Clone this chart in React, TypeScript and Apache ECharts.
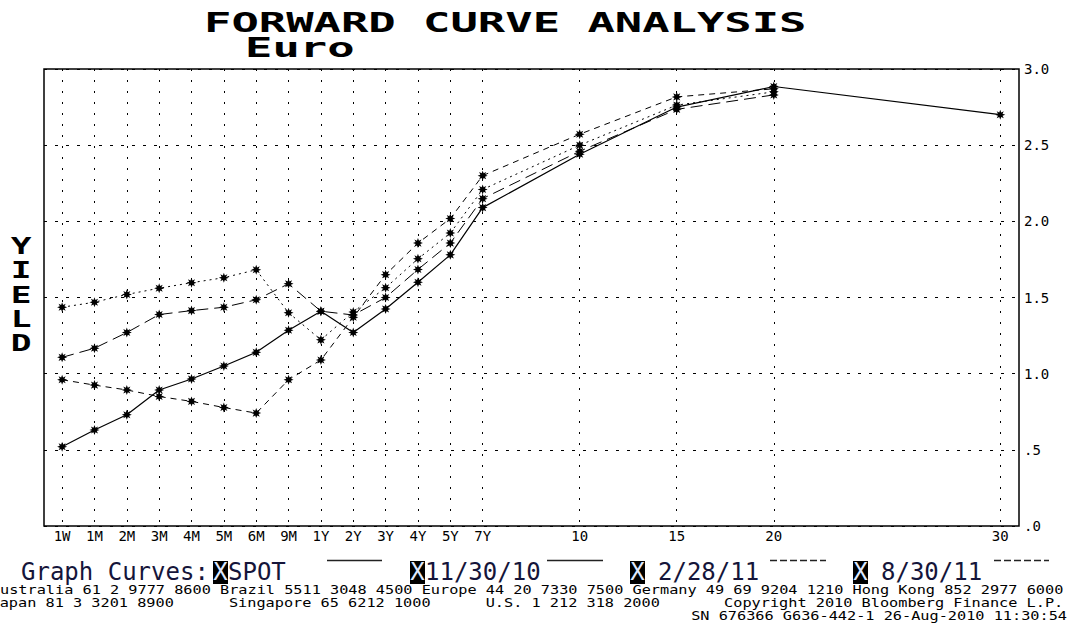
import React, { useEffect, useRef } from 'react';
import * as echarts from 'echarts';

// Tenors and their slot positions on the (non-linear) Bloomberg tenor axis
const TENORS = ['1W', '1M', '2M', '3M', '4M', '5M', '6M', '9M', '1Y', '2Y', '3Y', '4Y', '5Y', '7Y', '10', '15', '20', '30'];
const TENOR_POS = [0, 1, 2, 3, 4, 5, 6, 7, 8, 9, 10, 11, 12, 13, 16, 19, 22, 29];

const SPOT = [0.52, 0.63, 0.73, 0.893, 0.965, 1.05, 1.14, 1.285, 1.41, 1.27, 1.425, 1.6, 1.78, 2.09, 2.44, 2.75, 2.885, 2.7];
const FWD_11_30_10 = [0.96, 0.925, 0.893, 0.85, 0.818, 0.778, 0.741, 0.96, 1.09, 1.37, 1.65, 1.857, 2.018, 2.3, 2.572, 2.817, 2.87, null];
const FWD_2_28_11 = [1.107, 1.167, 1.27, 1.388, 1.414, 1.436, 1.485, 1.59, 1.41, 1.385, 1.5, 1.684, 1.857, 2.149, 2.46, 2.735, 2.83, null];
const FWD_8_30_11 = [1.436, 1.469, 1.52, 1.561, 1.597, 1.63, 1.682, 1.4, 1.222, 1.405, 1.564, 1.754, 1.923, 2.209, 2.5, 2.763, 2.85, null];

const Y_MIN = 0;
const Y_MAX = 3;
const Y_STEP = 0.5;

const LEGEND_ITEMS = ['SPOT', '11/30/10', '2/28/11', '8/30/11'];

// Footer as visible in the reference (left edge clipped by the screen)
const FOOTER_1 = 'ustralia 61 2 9777 8600 Brazil 5511 3048 4500 Europe 44 20 7330 7500 Germany 49 69 9204 1210 Hong Kong 852 2977 6000';
const FOOTER_2 = ['apan 81 3 3201 8900', 'Singapore 65 6212 1000', 'U.S. 1 212 318 2000', 'Copyright 2010 Bloomberg Finance L.P.'];
const FOOTER_3 = 'SN 676366 G636-442-1 26-Aug-2010 11:30:54';

const STAR =
  'path://M10,5 L7.3,6 L8.54,8.54 L6,7.3 L5,10 L4,7.3 L1.46,8.54 L2.7,6 L0,5 L2.7,4 L1.46,1.46 L4,2.7 L5,0 L6,2.7 L8.54,1.46 L7.3,4 Z';

const MONO = '"DejaVu Sans Mono", "Liberation Mono", monospace';

function pairs(vals: (number | null)[]) {
  return TENOR_POS.map((p, i) => [p, vals[i]]).filter((d) => d[1] !== null);
}

function lineSeries(name: string, vals: (number | null)[], dash: any, width: number) {
  return {
    type: 'line',
    name,
    data: pairs(vals),
    symbol: STAR,
    symbolSize: 10,
    itemStyle: { color: '#000' },
    lineStyle: { color: '#000', width, type: dash },
    emphasis: { disabled: true },
    silent: true,
  };
}

function txt(text: string, x: number, y: number, opts: any = {}) {
  const { scaleX = 1, size = 12, weight = 'normal', family = MONO, color = '#000', align = 'left', valign = 'middle', lineHeight } = opts;
  return {
    type: 'text',
    x,
    y,
    scaleX,
    silent: true,
    style: {
      text,
      fontSize: size,
      fontWeight: weight,
      fontFamily: family,
      fill: color,
      textAlign: align,
      align,
      textVerticalAlign: valign,
      verticalAlign: valign,
      lineHeight,
    },
  };
}

export default function App() {
  const ref = useRef<HTMLDivElement>(null);

  useEffect(() => {
    if (!ref.current) return;
    const chart = echarts.init(ref.current, null, { renderer: 'svg' });

    const legendXBoxes = [213, 410, 630, 853];
    const legendTextX = [228, 425, 658, 881];
    const legendLines = [
      { x1: 327, x2: 382, dash: null },
      { x1: 547, x2: 603, dash: null },
      { x1: 770, x2: 826, dash: [7, 3] },
      { x1: 994, x2: 1049, dash: [7, 3] },
    ];
    const footerPitch = 9.17;
    const footer2Cols = [1, 26, 54, 80];

    const graphics: any[] = [
      txt('FORWARD CURVE ANALYSIS', 204, 23, { size: 26, weight: 'bold', scaleX: 1.75 }),
      txt('Euro', 245, 48, { size: 26, weight: 'bold', scaleX: 1.75 }),
      txt('Y\nI\nE\nL\nD', 21, 234, { size: 23, weight: 'bold', scaleX: 1.5, align: 'center', valign: 'top', lineHeight: 24.3 }),
      txt('Graph Curves:', 21, 572, { size: 24, color: '#15153a' }),
    ];
    LEGEND_ITEMS.forEach((name, i) => {
      graphics.push({
        type: 'rect',
        silent: true,
        shape: { x: legendXBoxes[i], y: 561, width: 15, height: 23 },
        style: { fill: '#000' },
      });
      graphics.push(txt('X', legendXBoxes[i] + 7.5, 572, { size: 24, color: '#dfe8ff', align: 'center' }));
      graphics.push(txt(name, legendTextX[i], 572, { size: 24, color: '#15153a' }));
      const l = legendLines[i];
      graphics.push({
        type: 'line',
        silent: true,
        shape: { x1: l.x1, y1: 560.5, x2: l.x2, y2: 560.5 },
        style: { stroke: '#222', lineWidth: 1.5, lineDash: l.dash || undefined },
      });
    });
    graphics.push(txt(FOOTER_1, 0, 590, { size: 12, scaleX: 1.27 }));
    FOOTER_2.forEach((t, i) => {
      graphics.push(txt(t, -9.5 + footer2Cols[i] * footerPitch, 603, { size: 12, scaleX: 1.27 }));
    });
    graphics.push(txt(FOOTER_3, 1067, 616, { size: 12, scaleX: 1.27, align: 'right' }));

    const option: any = {
      animation: false,
      backgroundColor: '#fff',
      grid: {
        left: 44,
        right: 52,
        top: 69,
        bottom: 97,
        show: true,
        backgroundColor: 'transparent',
        borderColor: '#000',
        borderWidth: 1.5,
        containLabel: false,
        outerBoundsMode: 'none',
      },
      xAxis: {
        type: 'value',
        min: -0.56,
        max: 29.58,
        axisLine: { show: false },
        axisTick: { show: false, customValues: TENOR_POS },
        axisLabel: {
          customValues: TENOR_POS,
          formatter: (v: number) => {
            const i = TENOR_POS.indexOf(Math.round(v));
            return i >= 0 ? TENORS[i] : '';
          },
          fontFamily: MONO,
          fontSize: 14,
          color: '#000',
          margin: 3,
        },
        splitLine: { show: true, lineStyle: { color: '#000', width: 1, type: [2, 9] } },
      },
      yAxis: {
        type: 'value',
        position: 'right',
        min: Y_MIN,
        max: Y_MAX,
        interval: Y_STEP,
        axisLine: { show: false },
        axisTick: { show: false },
        axisLabel: {
          formatter: (v: number) => {
            const s = v.toFixed(1);
            return s.startsWith('0') ? s.slice(1) : s;
          },
          fontFamily: MONO,
          fontSize: 14,
          color: '#000',
          margin: 5,
        },
        splitLine: { show: true, lineStyle: { color: '#000', width: 1, type: [3, 8] } },
      },
      series: [
        lineSeries('SPOT', SPOT, 'solid', 1.2),
        lineSeries('11/30/10', FWD_11_30_10, [6, 5], 1),
        lineSeries('2/28/11', FWD_2_28_11, [12, 6], 1),
        lineSeries('8/30/11', FWD_8_30_11, [2, 4], 1),
      ],
      graphic: graphics,
    };

    chart.setOption(option);
    return () => chart.dispose();
  }, []);

  return (
    <div
      ref={ref}
      style={{ position: 'absolute', left: 0, top: 0, width: 1071, height: 623, background: '#fff' }}
    />
  );
}
